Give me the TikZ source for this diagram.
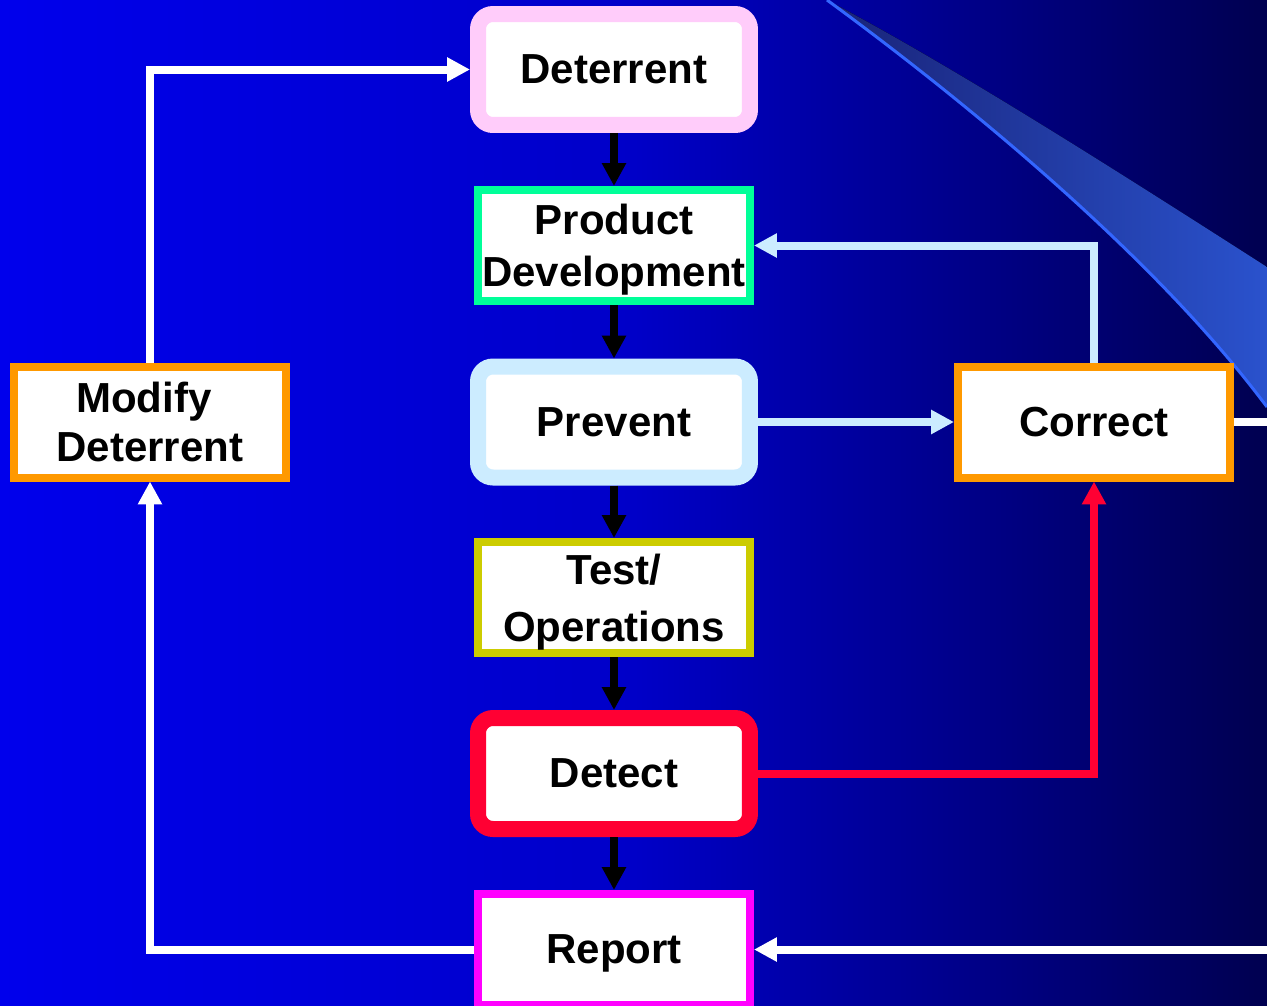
\documentclass[tikz,border=0pt]{standalone}
\usepackage{fontspec}
\setmainfont{Liberation Sans}
\usetikzlibrary{arrows.meta}

\definecolor{bgL}{RGB}{0,0,236}
\definecolor{bgM}{RGB}{0,0,200}
\definecolor{bgR}{RGB}{0,0,80}
\definecolor{wedgeL}{RGB}{25,35,120}
\definecolor{wedgeR}{RGB}{42,82,205}
\definecolor{swooshLine}{RGB}{51,102,255}
\definecolor{pinkC}{RGB}{255,204,250}
\definecolor{greenC}{RGB}{0,255,153}
\definecolor{iceC}{RGB}{204,236,255}
\definecolor{oliveC}{RGB}{204,204,0}
\definecolor{redC}{RGB}{255,0,51}
\definecolor{magC}{RGB}{255,0,255}
\definecolor{orangeC}{RGB}{255,153,0}

\begin{document}
\begin{tikzpicture}[x=0.02cm,y=-0.02cm,
  box/.style={minimum width=5.44cm, minimum height=2.22cm, inner sep=0pt,
    fill=white, text=black, align=center, text depth=0pt,
    font=\fontsize{23.9}{29.8}\selectfont\bfseries},
  roundbox/.style={box, rounded corners=0.3cm, line width=0.32cm},
  squarebox/.style={box, line width=0.16cm},
  link/.style={line width=0.16cm, -{Triangle[length=0.46cm,width=0.46cm]}},
  plain/.style={line width=0.16cm}]

\useasboundingbox (0,0) rectangle (1267,1005);
\clip (0,0) rectangle (1267,1005);

% backdrop gradient
\fill[left color=bgL, right color=bgR, middle color=bgM] (0,0) rectangle (1267,1005);

% decorative swoosh in the upper right
\fill[left color=wedgeL, right color=wedgeR]
  (827,0) .. controls (950,65) and (1100,160) .. (1267,267)
  -- (1267,407) .. controls (1150,250) and (950,90) .. (827,0) -- cycle;
\draw[line width=0.06cm, swooshLine]
  (827,0) .. controls (950,90) and (1150,250) .. (1267,407);

% main column
\node[roundbox, draw=pinkC]   (det)  at (614,69.5)  {Deterrent};
\node[squarebox, draw=greenC] (pd)   at (614,245.5) {Product\\Development};
\node[roundbox, draw=iceC]    (prev) at (614,422)   {Prevent};
\node[squarebox, draw=oliveC, font=\fontsize{23.9}{32.3}\selectfont\bfseries]
                              (test) at (614,597.5) {Test/\\Operations};
\node[roundbox, draw=redC]    (dct)  at (614,773.5) {Detect};
\node[squarebox, draw=magC]   (rep)  at (614,949.5) {Report};

% side boxes
\node[squarebox, draw=orangeC, font=\fontsize{23.9}{27.7}\selectfont\bfseries]
                              (mod)  at (150,422)   {Modify\kern0.24cm\\Deterrent};
\node[squarebox, draw=orangeC] (cor) at (1094,422)  {Correct};

% loose ends running off the right edge
\coordinate (offR) at (1290,949.5);
\coordinate (offC) at (1290,422);

% flow down the column
\draw[link, black] (det) -- (pd);
\draw[link, black] (pd) -- (prev);
\draw[link, black] (prev) -- (test);
\draw[link, black] (test) -- (dct);
\draw[link, black] (dct) -- (rep);

% feedback loops
\draw[link, iceC] (prev) -- (cor);
\draw[link, iceC] (cor.north) |- (pd.east);
\draw[link, redC] (dct.east) -| (cor.south);
\draw[link, white] (mod.north) |- (det.west);
\draw[link, white] (rep.west) -| (mod.south);
\draw[link, white] (offR) -- (rep.east);
\draw[plain, white] (cor.east) -- (offC);

\end{tikzpicture}
\end{document}
